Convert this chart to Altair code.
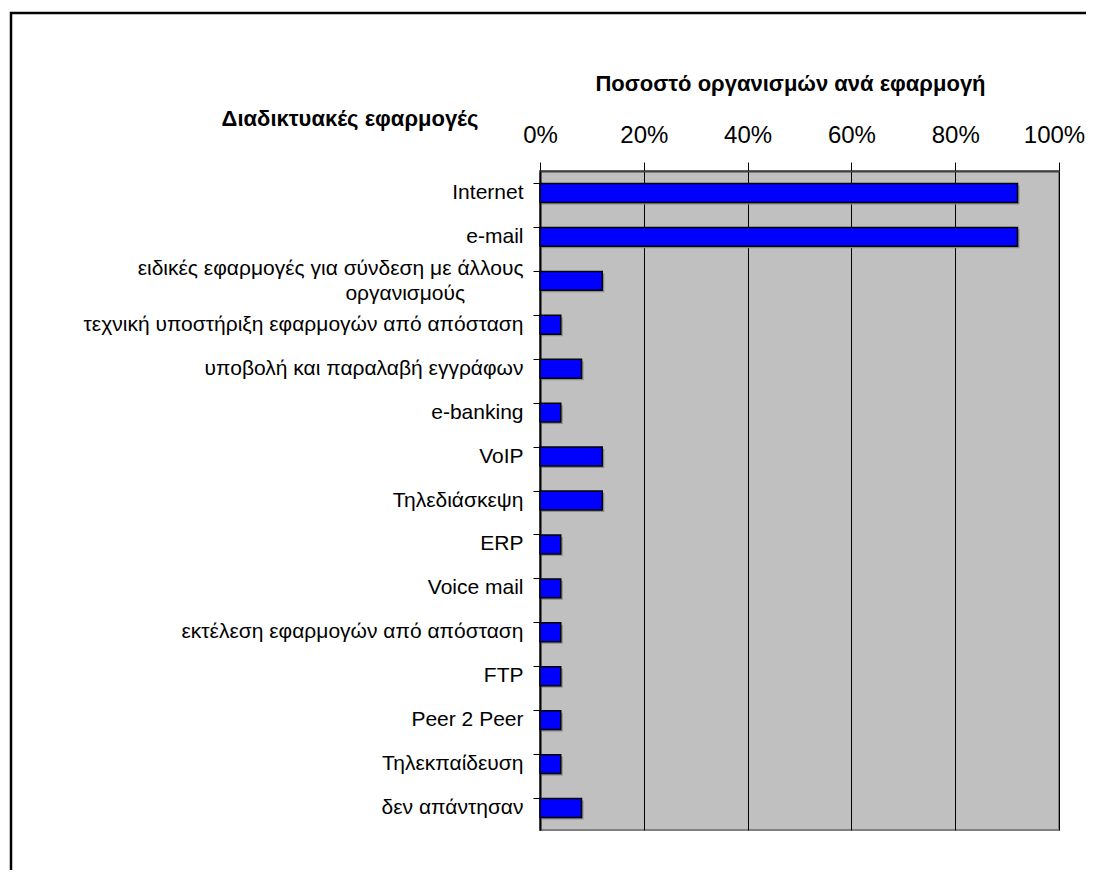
import altair as alt
import pandas as pd

categories = [
    "Internet",
    "e-mail",
    "ειδικές εφαρμογές για σύνδεση με άλλους\nοργανισμούς",
    "τεχνική υποστήριξη εφαρμογών από απόσταση",
    "υποβολή και παραλαβή εγγράφων",
    "e-banking",
    "VoIP",
    "Τηλεδιάσκεψη",
    "ERP",
    "Voice mail",
    "εκτέλεση εφαρμογών από απόσταση",
    "FTP",
    "Peer 2 Peer",
    "Τηλεκπαίδευση",
    "δεν απάντησαν",
]
values = [0.92, 0.92, 0.12, 0.04, 0.08, 0.04, 0.12, 0.12, 0.04, 0.04, 0.04, 0.04, 0.04, 0.04, 0.08]
x_ticks = [0, 0.2, 0.4, 0.6, 0.8, 1.0]

df = pd.DataFrame({"app": categories, "share": values})

FONT = "Liberation Sans"
PAD = "\u00a0" * 10 + "\u200b"

y_scale = alt.Scale(domain=categories, paddingInner=0.57, paddingOuter=0.285)
x_scale = alt.Scale(domain=[0, 1], nice=False)

label_expr = (
    "indexof(datum.label, '\\n') >= 0 ? "
    "[split(datum.label, '\\n')[0], split(datum.label, '\\n')[1] + '" + PAD + "'] : datum.label"
)

x_axis = alt.Axis(
    orient="top",
    values=x_ticks,
    format=".0%",
    title="Ποσοστό οργανισμών ανά εφαρμογή",
    titleFont=FONT,
    titleFontSize=22,
    titleFontWeight="bold",
    titleColor="#000000",
    titleX=250,
    titleY=-81,
    titleBaseline="alphabetic",
    labelFont=FONT,
    labelFontSize=24,
    labelColor="#000000",
    labelBaseline="alphabetic",
    labelPadding=20,
    labelFlush=False,
    labelOverlap=False,
    labelOffset={"condition": {"test": "datum.value == 1", "value": -5}, "value": 0},
    tickSize=9,
    tickColor="#000000",
    tickWidth=1,
    domainColor="#404040",
    domainWidth=2,
    grid=True,
    gridColor="#000000",
    gridWidth=1,
)

shadow = alt.Chart(df).mark_bar(color="#8c8c8c", xOffset=2, yOffset=2).encode(
    x=alt.X("share:Q", scale=x_scale, axis=x_axis),
    y=alt.Y(
        "app:N",
        sort=categories,
        scale=y_scale,
        axis=alt.Axis(orient="left", title=None, labels=False, ticks=False, domain=False, grid=False),
    ),
)

bars = alt.Chart(df).mark_bar(color="#0000FF", stroke="#000000", strokeWidth=1.5).encode(
    x=alt.X("share:Q", scale=x_scale, axis=x_axis),
    y=alt.Y(
        "app:N",
        sort=categories,
        scale=y_scale,
        axis=alt.Axis(
            orient="left",
            title="Διαδικτυακές εφαρμογές",
            titleFont=FONT,
            titleFontSize=22,
            titleFontWeight="bold",
            titleColor="#000000",
            titleAngle=0,
            titleAlign="right",
            titleX=-62,
            titleY=-46,
            titleBaseline="alphabetic",
            labelFont=FONT,
            labelFontSize=21,
            labelColor="#000000",
            labelLineHeight=25,
            labelExpr=label_expr,
            labelOffset={
                "condition": {"test": "indexof(datum.value, '\\n') >= 0", "value": -12},
                "value": 0,
            },
            labelPadding=17,
            labelLimit=600,
            ticks=False,
            domainColor="#000000",
            domainWidth=2,
        ),
    ),
)

tick_layer = alt.Chart(df).mark_point(opacity=0).encode(
    x=alt.value(0),
    y=alt.Y(
        "app:N",
        sort=categories,
        scale=y_scale,
        axis=alt.Axis(
            orient="left",
            title=None,
            labels=False,
            ticks=True,
            tickSize=7,
            tickColor="#000000",
            tickWidth=1,
            bandPosition=0,
            domain=False,
            grid=False,
        ),
    ),
)

frame = alt.Chart(alt.Data(values=[{"f": 1}])).mark_rect(
    fill=None, stroke="#000000", strokeWidth=2.5
).encode(
    x=alt.value(-529),
    x2=alt.value(600),
    y=alt.value(-158),
    y2=alt.value(800),
)

chart = (
    alt.layer(shadow, bars, tick_layer, frame)
    .resolve_axis(y="independent")
    .properties(
        width=519,
        height=659,
        background="#FFFFFF",
        autosize=alt.AutoSizeParams(type="none"),
        padding={"left": 532, "top": 163, "right": 27, "bottom": 40},
    )
    .configure_view(fill="#C0C0C0", stroke="#808080", strokeWidth=2)
)

chart.save("out.html", embed_options={"renderer": "svg", "actions": False})
